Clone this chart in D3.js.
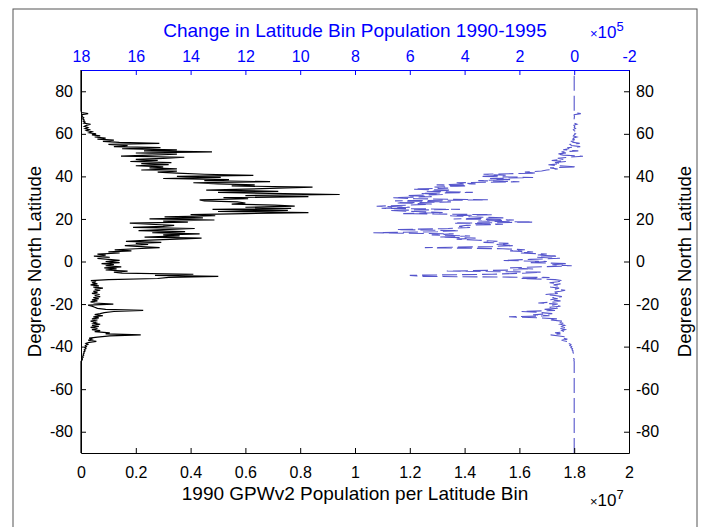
<!DOCTYPE html>
<html>
<head>
<meta charset="utf-8">
<script src="https://cdn.jsdelivr.net/npm/d3@7"></script>
<style>
  body { margin: 0; background: #fff; }
  svg text { font-family: "Liberation Sans", Arial, Helvetica, sans-serif; }
</style>
</head>
<body>
<svg id="chart" width="706" height="527"></svg>
<script>
// latitude bins, 0.5 deg apart, starting at -47
const latStart = -47;
const latStep = 0.5;

// 1990 population per latitude bin (x 1e7)
const pop1990 = [
  0, 0.003, 0.005, 0.004, 0.008, 0.006, 0.01, 0.008, 0.012, 0.01,
  0.015, 0.012, 0.018, 0.014, 0.02, 0.016, 0.025, 0.018, 0.03, 0.056,
  0.026, 0.04, 0.03, 0.06, 0.105, 0.218, 0.09, 0.105, 0.05, 0.07,
  0.04, 0.06, 0.035, 0.065, 0.04, 0.07, 0.045, 0.055, 0.035, 0.06,
  0.04, 0.065, 0.045, 0.08, 0.05, 0.07, 0.085, 0.12, 0.227, 0.09,
  0.06, 0.05, 0.04, 0.026, 0.118, 0.05, 0.035, 0.06, 0.04, 0.065,
  0.045, 0.07, 0.05, 0.068, 0.04, 0.06, 0.045, 0.07, 0.05, 0.08,
  0.045, 0.065, 0.035, 0.06, 0.04, 0.055, 0.036, 0.1, 0.28, 0.32,
  0.501, 0.27, 0.41, 0.15, 0.12, 0.17, 0.09, 0.13, 0.085, 0.147,
  0.09, 0.12, 0.075, 0.141, 0.09, 0.141, 0.1, 0.06, 0.105, 0.047,
  0.09, 0.06, 0.141, 0.1, 0.184, 0.123, 0.2, 0.287, 0.22, 0.16,
  0.245, 0.2, 0.293, 0.164, 0.25, 0.35, 0.44, 0.232, 0.36, 0.3,
  0.433, 0.26, 0.38, 0.21, 0.3, 0.415, 0.19, 0.3, 0.34, 0.25,
  0.178, 0.39, 0.3, 0.487, 0.25, 0.445, 0.305, 0.49, 0.4, 0.6,
  0.83, 0.5, 0.755, 0.48, 0.767, 0.6, 0.78, 0.707, 0.55, 0.6,
  0.57, 0.45, 0.433, 0.61, 0.52, 0.83, 0.6, 0.944, 0.69, 0.5,
  0.72, 0.457, 0.6, 0.72, 0.845, 0.55, 0.634, 0.5, 0.41, 0.69,
  0.45, 0.54, 0.3, 0.51, 0.35, 0.629, 0.45, 0.35, 0.28, 0.35,
  0.22, 0.35, 0.25, 0.3, 0.2, 0.32, 0.22, 0.33, 0.18, 0.28,
  0.2, 0.3, 0.377, 0.146, 0.25, 0.35, 0.2, 0.478, 0.23, 0.35,
  0.15, 0.29, 0.12, 0.17, 0.1, 0.286, 0.14, 0.08, 0.12, 0.06,
  0.09, 0.05, 0.07, 0.04, 0.055, 0.03, 0.04, 0.02, 0.03, 0.015,
  0.025, 0.012, 0.02, 0.035, 0.01, 0.015, 0.008, 0.012, 0.006, 0.01,
  0.005, 0.004, 0.003, 0.026, 0.002, 0.001, 0, 0, 0, 0
];

// change in bin population 1990-1995 (x 1e5)
const popChange = [
  0, 0.01, 0, 0.02, 0.01, 0.03, 0.02, 0.04, 0.03, 0.05,
  0.04, 0.08, 0.06, 0.12, 0.09, 0.16, 0.12, 0.2, 0.15, 0.3,
  0.46, 0.25, 0.4, 0.3, 0.55, 0.86, 0.5, 0.7, 0.35, 0.45,
  0.33, 0.5, 0.3, 0.45, 0.35, 0.52, 0.4, 0.6, 0.45, 0.85,
  0.6, 1.2, 2.38, 0.9, 1.5, 0.8, 1.2, 1.92, 0.7, 1.1,
  0.6, 0.9, 0.5, 0.8, 0.6, 1.31, 0.7, 0.5, 0.9, 0.6,
  0.8, 0.45, 0.7, 1.06, 0.6, 0.8, 0.5, 0.33, 0.7, 0.55,
  0.88, 0.6, 0.75, 0.5, 0.9, 0.6, 0.4, 0.7, 1.92, 0.9,
  5.57, 6.0, 3.0, 1.9, 1.2, 4.65, 2.2, 1.5, 2.34, 1.2,
  0.09, 0.8, 0.27, 1.6, 1.0, 2.59, 1.6, 0.52, 1.37, 0.58,
  1.37, 1.0, 1.98, 1.5, 2.34, 1.8, 2.6, 5.45, 3.0, 2.2,
  2.83, 2.4, 3.31, 2.8, 3.5, 4.29, 3.6, 4.9, 3.8, 5.2,
  4.4, 7.33, 5.0, 4.2, 6.48, 4.6, 3.8, 4.2, 3.92, 2.6,
  4.4, 1.49, 3.5, 2.2, 4.4, 2.53, 3.8, 4.53, 3.0, 6.24,
  4.8, 5.8, 6.72, 4.17, 7.03, 6.0, 7.21, 6.0, 5.2, 6.5,
  4.5, 6.54, 3.15, 5.8, 6.6, 5.2, 6.11, 4.8, 5.6, 3.7,
  5.38, 4.5, 5.87, 4.6, 5.1, 3.9, 5.02, 3.6, 4.29, 2.0,
  3.5, 2.34, 3.07, 1.5, 3.43, 2.5, 3.31, 1.37, 1.8, 1.19,
  1.0, 0.6, 0.88, -0.1, 0.6, 0.94, 0.5, 0.7, 0.3, 0.82,
  0.4, 0.6, 0.2, -0.32, 0.4, 0.64, 0.3, 0.46, -0.15, 0.4,
  0.2, 0.23, -0.22, 0.1, 0.15, -0.2, 0.05, 0.1, -0.1, 0.05,
  0.02, -0.1, 0.03, 0, -0.05, 0.02, -0.08, 0, 0.03, -0.05,
  0, -0.02, 0.01, -0.1, 0, -0.03, 0, -0.02, 0, 0,
  -0.01, 0, 0, -0.24, 0, 0, 0, 0, 0, 0
];

const bottomTicks = [0, 0.2, 0.4, 0.6, 0.8, 1, 1.2, 1.4, 1.6, 1.8, 2];
const bottomLabels = ["0", "0.2", "0.4", "0.6", "0.8", "1", "1.2", "1.4", "1.6", "1.8", "2"];
const topTicks = [18, 16, 14, 12, 10, 8, 6, 4, 2, 0, -2];
const topLabels = ["18", "16", "14", "12", "10", "8", "6", "4", "2", "0", "-2"];
const latTicks = [-80, -60, -40, -20, 0, 20, 40, 60, 80];
const latLabels = ["-80", "-60", "-40", "-20", "0", "20", "40", "60", "80"];

const svg = d3.select("#chart");
const plotL = 81, plotR = 629, plotT = 70, plotB = 453;
const blue = "#0000ff";

// outer figure frame
svg.append("rect")
  .attr("x", 13).attr("y", 9)
  .attr("width", 684).attr("height", 530)
  .attr("fill", "none").attr("stroke", "#555").attr("stroke-width", 1);

const x = d3.scaleLinear().domain([0, 2]).range([plotL, plotR]);
const xTop = d3.scaleLinear().domain([18, -2]).range([plotL, plotR]);
const y = d3.scaleLinear().domain([-90, 90]).range([plotB, plotT]);

function toPoints(vals) {
  const pts = [{ lat: -90, v: 0 }];
  vals.forEach((v, i) => pts.push({ lat: latStart + i * latStep, v: v }));
  pts.push({ lat: 90, v: 0 });
  return pts;
}

svg.append("path")
  .datum(toPoints(pop1990))
  .attr("fill", "none")
  .attr("stroke", "#000")
  .attr("stroke-width", 1.2)
  .attr("d", d3.line().x(d => x(d.v)).y(d => y(d.lat)));

svg.append("path")
  .datum(toPoints(popChange))
  .attr("fill", "none")
  .attr("stroke", "#5555cc")
  .attr("stroke-width", 1.1)
  .attr("stroke-dasharray", "15,5")
  .attr("d", d3.line().x(d => xTop(d.v)).y(d => y(d.lat)));

// axes, ticks pointing inward
const gB = svg.append("g").attr("transform", `translate(0,${plotB})`)
  .call(d3.axisBottom(x).tickValues(bottomTicks).tickFormat((d, i) => bottomLabels[i])
    .tickSize(-5).tickSizeOuter(0).tickPadding(14));
const gT = svg.append("g").attr("transform", `translate(0,${plotT})`)
  .call(d3.axisTop(xTop).tickValues(topTicks).tickFormat((d, i) => topLabels[i])
    .tickSize(-5).tickSizeOuter(0).tickPadding(8));
const gL = svg.append("g").attr("transform", `translate(${plotL},0)`)
  .call(d3.axisLeft(y).tickValues(latTicks).tickFormat((d, i) => latLabels[i])
    .tickSize(-5).tickSizeOuter(0).tickPadding(8));
const gR = svg.append("g").attr("transform", `translate(${plotR},0)`)
  .call(d3.axisRight(y).tickValues(latTicks).tickFormat((d, i) => latLabels[i])
    .tickSize(-5).tickSizeOuter(0).tickPadding(7));

[gB, gL, gR].forEach(g => {
  g.selectAll(".domain").attr("stroke", "#000");
  g.selectAll(".tick line").attr("stroke", "#000");
  g.selectAll("text").attr("fill", "#000").style("font-size", "16px");
});
gT.selectAll(".domain").attr("stroke", blue);
gT.selectAll(".tick line").attr("stroke", blue);
gT.selectAll("text").attr("fill", blue).style("font-size", "16px");

// titles and labels
svg.append("text")
  .attr("x", (plotL + plotR) / 2).attr("y", 37)
  .attr("text-anchor", "middle").attr("fill", blue)
  .style("font-size", "19px")
  .text("Change in Latitude Bin Population 1990-1995");

svg.append("text")
  .attr("x", (plotL + plotR) / 2).attr("y", 500)
  .attr("text-anchor", "middle").attr("fill", "#000")
  .style("font-size", "19px")
  .text("1990 GPWv2 Population per Latitude Bin");

svg.append("text")
  .attr("transform", `translate(41,${(plotT + plotB) / 2}) rotate(-90)`)
  .attr("text-anchor", "middle")
  .style("font-size", "18.5px")
  .text("Degrees North Latitude");

svg.append("text")
  .attr("transform", `translate(691,${(plotT + plotB) / 2}) rotate(-90)`)
  .attr("text-anchor", "middle")
  .style("font-size", "18.5px")
  .text("Degrees North Latitude");

function exponent(xp, yp, power, color) {
  const t = svg.append("text").attr("x", xp).attr("y", yp).attr("fill", color);
  t.append("tspan").style("font-size", "13px").text("\u00d7");
  t.append("tspan").style("font-size", "17px").text("10");
  t.append("tspan").style("font-size", "13px").attr("dy", -7).text(power);
}
exponent(590, 38, "5", blue);
exponent(590, 506, "7", "#000");
</script>
</body>
</html>
